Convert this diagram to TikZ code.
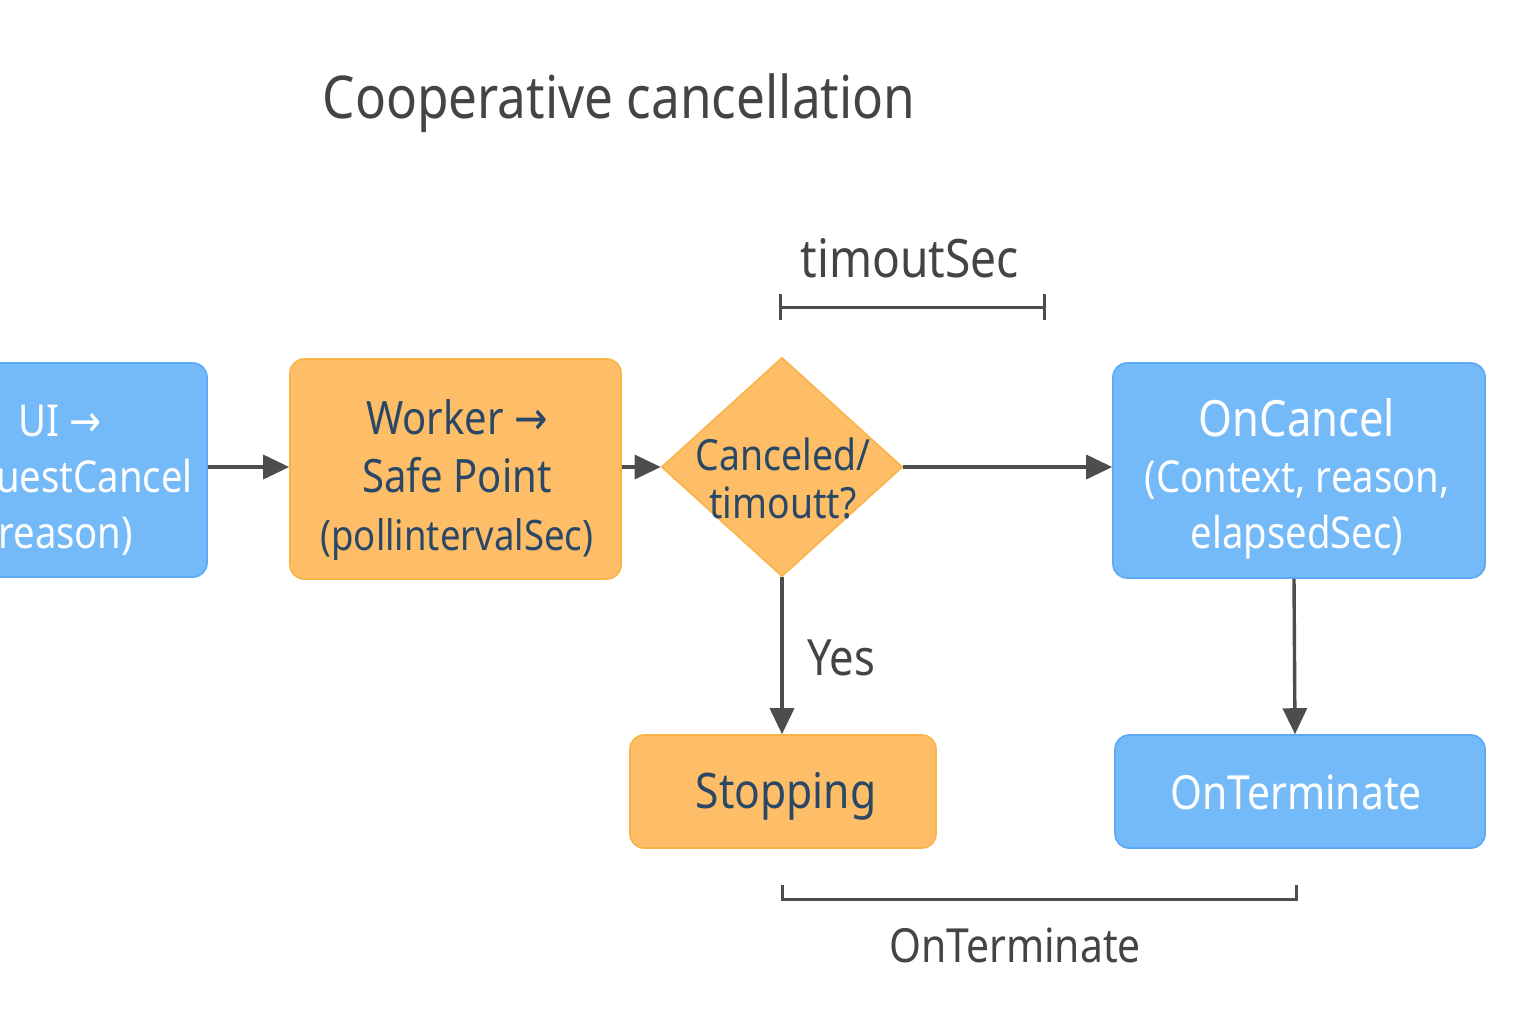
\documentclass[tikz,border=0pt]{standalone}
\usepackage{fontspec}
\setmainfont{Noto Sans}[FakeStretch=0.87]
\newfontfamily\arrowfont{DejaVu Sans}[FakeStretch=0.87]
\usetikzlibrary{shapes.geometric,arrows.meta}
\definecolor{bluefill}{RGB}{116,185,248}
\definecolor{blueline}{RGB}{92,170,245}
\definecolor{orangefill}{RGB}{253,190,103}
\definecolor{orangeline}{RGB}{250,178,70}
\definecolor{darktext}{RGB}{42,72,102}
\definecolor{graytext}{RGB}{68,68,68}
\definecolor{arrowgray}{RGB}{77,77,77}
\begin{document}
\begin{tikzpicture}[x=0.5pt,y=-0.5pt,
  box/.style={rounded corners=7pt, line width=0.8pt, inner sep=0pt},
  bluebox/.style={box, fill=bluefill, draw=blueline},
  orangebox/.style={box, fill=orangefill, draw=orangeline},
  txt/.style={inner sep=0pt, align=center},
  whitetxt/.style={txt, text=white},
  darktxt/.style={txt, text=darktext},
  arr/.style={draw=arrowgray, line width=1.7pt, -{Triangle[length=13pt,width=12pt]}},
  brk/.style={draw=arrowgray, line width=1.5pt},
  lbl/.style={text=graytext, inner sep=0pt},
]
\useasboundingbox (0,0) rectangle (1536,1024);
\clip (0,0) rectangle (1536,1024);
\fill[white] (0,0) rectangle (1536,1024);

% title
\node[lbl, font=\fontsize{29.5}{34}\selectfont] (title) at (619,103) {Cooperative cancellation};

% boxes
\node[bluebox, minimum width=144pt, minimum height=107pt] (req) at (63,470) {};
\node[whitetxt, font=\fontsize{22}{28}\selectfont] (reqtext) at (60,480)
      {UI {\arrowfont →}\\RequestCancel\\(reason)};

\node[orangebox, minimum width=165.5pt, minimum height=110pt] (worker) at (455.5,469) {};
\node[darktxt, font=\fontsize{23}{29}\selectfont] (workertext) at (457,480)
      {Worker {\arrowfont →}\\Safe Point\\{\fontsize{21}{28}\selectfont (pollintervalSec)}};

\node[diamond, fill=orangefill, draw=orangeline, line width=0.8pt, inner sep=0pt,
      minimum width=120.5pt, minimum height=109.5pt] (dec) at (782,467) {};
\node[darktxt, font=\fontsize{21.5}{24}\selectfont] (dectext) at (783,478)
      {Canceled/\\timoutt?};

\node[bluebox, minimum width=186pt, minimum height=107.5pt] (oncancel) at (1299,470.5) {};
\node[whitetxt, font=\fontsize{22}{28}\selectfont] (oncanceltext) at (1297,479)
      {{\fontsize{25}{28}\selectfont OnCancel}\\(Context, reason,\\elapsedSec)};

\node[orangebox, minimum width=153pt, minimum height=56.5pt] (stop) at (783,791.5) {};
\node[darktxt, font=\fontsize{24.5}{28}\selectfont] (stoptext) at (786,796) {Stopping};

\node[bluebox, minimum width=185pt, minimum height=56.5pt] (onterm) at (1300,791.5) {};
\node[whitetxt, font=\fontsize{23.5}{28}\selectfont] (ontermtext) at (1296,792) {OnTerminate};

% connectors
\draw[arr] (req.east |- dec.center) -- (worker.west |- dec.center);
\draw[arr] (worker.east |- dec.center) -- (dec.west);
\draw[arr] (dec.east) -- (oncancel.west |- dec.center);
\draw[arr] (dec.south) -- (stop.north -| dec.south);
\draw[arr] ([xshift=-2.5pt]oncancel.south) -- ([xshift=-2.5pt]onterm.north);
\node[lbl, font=\fontsize{25}{28}\selectfont] (yes) at (841,658) {Yes};

% timeout bracket
\coordinate (t1) at (780,307);
\coordinate (t2) at (1044,307);
\draw[brk] (t1) -- (t2);
\draw[brk] ([yshift=6.5pt]t1) -- ([yshift=-6.5pt]t1);
\draw[brk] ([yshift=6.5pt]t2) -- ([yshift=-6.5pt]t2);
\node[lbl, font=\fontsize{26.5}{30}\selectfont] (tlabel) at (910,258) {timoutSec};

% bottom bracket
\coordinate (b1) at (782,885);
\coordinate (b2) at (1296,885);
\draw[brk] (b1) -- ++(0,14) -| (b2);
\node[lbl, font=\fontsize{23.5}{28}\selectfont] (blabel) at (1015,945) {OnTerminate};
\end{tikzpicture}
\end{document}
